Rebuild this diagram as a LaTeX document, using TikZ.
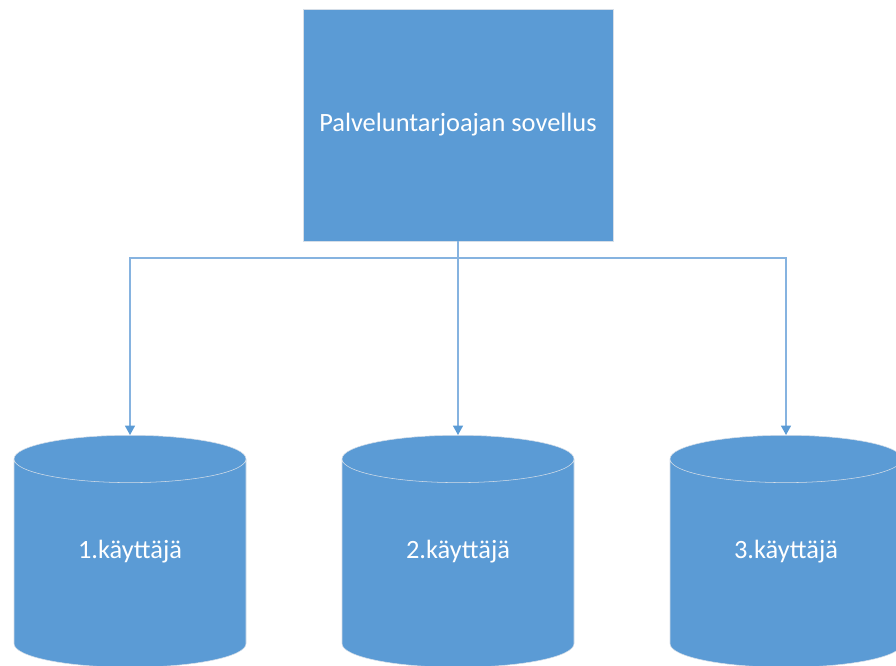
\documentclass[tikz,border=0pt]{standalone}
\usepackage{fontspec}
\setmainfont{Carlito}
\usetikzlibrary{arrows.meta,shapes.geometric}
\definecolor{officeblue}{HTML}{5B9BD5}
\definecolor{linkblue}{HTML}{86B3E0}
\definecolor{rimgray}{HTML}{D5DEE8}

\begin{document}
\begin{tikzpicture}[x=0.75pt,y=-0.75pt,
	app node/.style={rectangle,draw=rimgray,fill=officeblue,text=white,minimum width=232.5pt,minimum height=174pt,font=\fontsize{19.8}{23}\selectfont},
	user node/.style={cylinder,shape border rotate=90,aspect=0.42,draw=rimgray,fill=officeblue,text=white,minimum width=174pt,minimum height=174pt,text depth=25pt,anchor=north,font=\fontsize{19.8}{23}\selectfont},
	link/.style={draw=linkblue,line width=0.9pt,-{Triangle[width=7.5pt,length=7pt,color=officeblue]}}
]

	\useasboundingbox (0,0) rectangle (896,666);

	\node[app node] (app) at (458,125) {Palveluntarjoajan sovellus};
	\coordinate (split) at (458,258);

	\node[user node] (u1) at (130,435) {1.käyttäjä};
	\node[user node] (u2) at (458,435) {2.käyttäjä};
	\node[user node] (u3) at (786,435) {3.käyttäjä};

	\draw[link] (app.south) -- (split) -| (u1.north);
	\draw[link] (app.south) -- (u2.north);
	\draw[link] (app.south) -- (split) -| (u3.north);
\end{tikzpicture}
\end{document}
